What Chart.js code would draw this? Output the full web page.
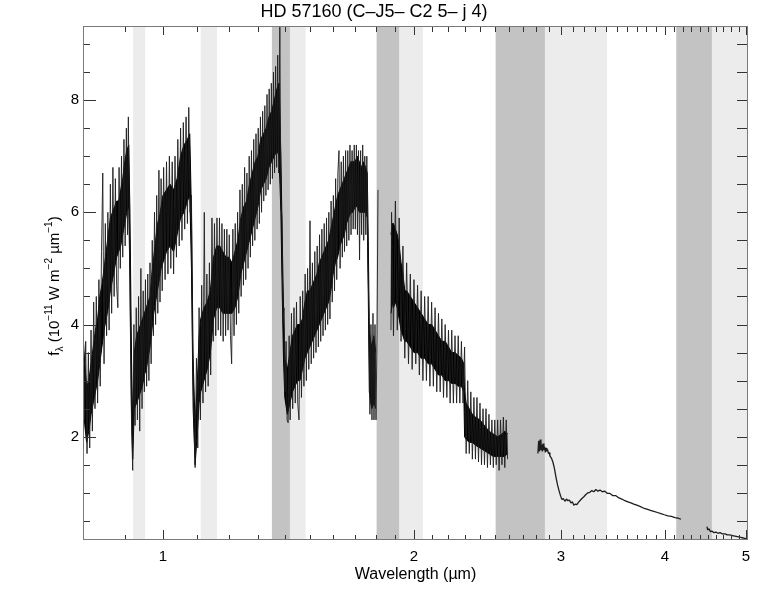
<!DOCTYPE html>
<html>
<head>
<meta charset="utf-8">
<title>HD 57160</title>
<script src="https://cdn.jsdelivr.net/npm/chart.js@4.4.1/dist/chart.umd.min.js"></script>
<style>
  html, body { margin: 0; padding: 0; background: #fff; }
  #wrap { width: 774px; height: 594px; }
</style>
</head>
<body>
<div id="wrap"><canvas id="spec" width="774" height="594"></canvas></div>
<script>
// spectrum in four pieces (gaps between them)
const wave1 = [0.802,0.805,0.808,0.811,0.814,0.817,0.820,0.823,0.826,0.829,0.832,0.835,0.838,0.841,0.844,0.847,0.850,0.853,0.856,0.859,
  0.862,0.865,0.868,0.871,0.874,0.877,0.880,0.883,0.886,0.889,0.892,0.895,0.898,0.901,0.904,0.907,0.909,0.912,0.914,0.917,
  0.920,0.923,0.926,0.929,0.932,0.935,0.938,0.941,0.944,0.947,0.950,0.953,0.956,0.959,0.962,0.965,0.968,0.971,0.974,0.977,
  0.980,0.983,0.986,0.989,0.992,0.995,0.998,1.002,1.006,1.010,1.014,1.018,1.022,1.026,1.030,1.034,1.038,1.042,1.046,1.050,
  1.054,1.058,1.062,1.066,1.070,1.074,1.078,1.082,1.085,1.089,1.093,1.097,1.101,1.105,1.109,1.113,1.117,1.121,1.125,1.129,
  1.133,1.137,1.141,1.145,1.149,1.153,1.157,1.161,1.165,1.169,1.173,1.177,1.181,1.185,1.189,1.193,1.197,1.201,1.205,1.209,
  1.213,1.217,1.221,1.225,1.229,1.233,1.237,1.241,1.245,1.249,1.253,1.257,1.261,1.265,1.269,1.273,1.277,1.281,1.285,1.289,
  1.293,1.297,1.301,1.305,1.309,1.313,1.317,1.321,1.325,1.329,1.333,1.337,1.341,1.345,1.349,1.353,1.357,1.361,1.365,1.369,
  1.373,1.377,1.381,1.385,1.389,1.393,1.397,1.401,1.405,1.409,1.413,1.417,1.421,1.426,1.431,1.436,1.441,1.446,1.451,1.456,
  1.461,1.466,1.471,1.476,1.481,1.486,1.491,1.496,1.501,1.506,1.511,1.516,1.521,1.526,1.531,1.536,1.541,1.546,1.551,1.556,
  1.561,1.566,1.571,1.576,1.581,1.586,1.591,1.596,1.601,1.606,1.611,1.616,1.621,1.626,1.631,1.636,1.641,1.646,1.651,1.656,
  1.661,1.666,1.671,1.676,1.681,1.686,1.691,1.696,1.701,1.706,1.711,1.716,1.721,1.726,1.731,1.736,1.741,1.746,1.751,1.756,
  1.761,1.766,1.771,1.776,1.781,1.786,1.791,1.796,1.801,1.806,1.811];
const flux1 = [4.0,2.3,3.7,1.7,3.5,1.8,3.9,2.1,4.4,2.5,4.5,2.6,4.8,2.9,5.3,6.7,3.3,5.8,3.8,6.0,
  3.9,6.5,4.2,6.8,4.5,6.6,4.7,4.3,6.8,5.0,7.0,5.2,7.3,5.4,7.5,5.6,7.7,5.5,4.0,2.2,
  1.4,4.0,2.2,4.3,2.3,4.5,2.1,5.0,2.5,4.6,2.8,4.8,2.9,4.9,3.0,5.1,3.3,5.5,3.8,6.0,
  4.0,6.3,4.2,6.75,4.4,6.6,4.6,6.8,4.8,6.9,4.9,7.0,5.0,6.9,4.9,7.0,5.2,7.3,5.4,7.5,
  5.5,7.6,5.7,7.7,5.8,7.87,6.0,6.3,3.8,2.4,1.45,3.4,1.8,4.3,2.3,4.7,2.6,6.0,2.8,4.9,
  2.9,5.1,3.1,5.9,3.7,5.8,3.8,5.9,3.9,5.9,3.8,5.8,3.7,5.7,3.8,5.7,3.9,5.6,3.8,3.3,
  5.7,3.8,5.8,4.0,6.0,4.2,6.4,4.5,6.5,4.7,6.8,4.8,6.7,5.0,7.0,5.2,7.1,5.4,7.3,5.5,
  7.4,5.7,7.5,5.8,7.7,6.0,7.8,6.2,7.9,6.3,8.1,6.4,8.2,6.5,8.3,6.6,8.5,6.7,8.6,6.8,
  8.8,6.7,9.3,6.2,5.9,4.0,4.3,2.8,3.7,2.3,2.25,3.8,2.3,4.2,2.5,4.3,2.6,4.4,2.6,2.3,
  4.5,2.7,4.6,2.9,4.9,3.0,5.0,3.2,5.85,3.3,5.1,3.4,5.3,3.5,5.4,3.6,5.6,3.7,5.7,3.8,
  5.8,3.9,5.9,4.0,6.0,4.1,6.2,4.4,6.3,4.6,6.6,4.8,6.7,7.1,5.0,6.9,5.2,7.0,5.3,7.1,
  5.4,7.1,5.5,7.2,5.6,7.1,5.7,7.2,5.7,7.2,5.6,7.1,5.15,7.1,5.6,7.2,5.5,7.0,5.6,7.0,
  5.2,4.2,2.4,4.0,2.3,4.2,2.3,4.0,2.3,3.8,6.4];

const wave2 = [1.877,1.88,1.89,1.90,1.91,1.92,1.93,1.94,1.95,1.96,1.97,1.98,1.99,2.00,2.01,2.02,2.03,2.04,2.05,2.06,
  2.07,2.08,2.09,2.10,2.11,2.12,2.13,2.14,2.15,2.16,2.17,2.18,2.19,2.20,2.21,2.22,2.23,2.24,2.25,2.26,
  2.27,2.28,2.29,2.30,2.31,2.32,2.33,2.34,2.35,2.36,2.37,2.38,2.39,2.40,2.41,2.42,2.43,2.44,2.45,2.46,
  2.47,2.48,2.49,2.50,2.51,2.52,2.53,2.54,2.55,2.56,2.57,2.58,2.59];
const flux2 = [3.9,6.0,3.8,6.2,3.9,5.9,3.7,5.4,3.4,5.1,3.3,4.9,3.2,4.8,3.3,4.7,3.1,4.6,3.0,4.5,
  3.0,4.5,2.9,4.4,2.9,4.3,2.8,4.2,2.8,4.1,2.7,4.0,2.7,3.9,2.6,3.9,2.6,3.8,2.6,3.8,
  2.6,3.7,2.6,3.6,1.7,3.0,1.7,2.8,1.6,2.7,1.6,2.7,1.55,2.6,1.5,2.5,1.5,2.5,1.45,2.4,
  1.5,2.3,1.45,2.3,1.5,2.3,1.4,2.3,1.5,2.35,1.45,2.3,1.6];

const wave3 = [2.816,2.822,2.828,2.834,2.840,2.846,2.851,2.857,2.863,2.869,2.875,2.881,2.887,2.893,2.899,2.905,2.911,2.923,2.935,2.947,
  2.960,2.972,2.984,2.996,3.009,3.021,3.034,3.047,3.059,3.072,3.085,3.097,3.110,3.123,3.136,3.149,3.162,3.180,3.197,3.215,
  3.233,3.250,3.268,3.286,3.305,3.323,3.342,3.365,3.388,3.412,3.436,3.464,3.493,3.522,3.551,3.580,3.610,3.640,3.670,3.701,
  3.732,3.768,3.805,3.842,3.879,3.917,3.955,3.993,4.032,4.071,4.111,4.145,4.180];
const flux3 = [1.70,1.93,1.74,1.95,1.76,1.86,1.74,1.88,1.76,1.82,1.72,1.80,1.74,1.77,1.70,1.72,1.66,1.62,1.55,1.44,
  1.28,1.15,1.05,0.96,0.88,0.90,0.85,0.89,0.86,0.87,0.82,0.84,0.78,0.80,0.79,0.83,0.86,0.90,0.93,0.97,
  1.00,1.01,1.04,1.02,1.06,1.03,1.05,1.02,1.03,0.99,0.99,0.95,0.95,0.91,0.89,0.86,0.84,0.82,0.80,0.78,
  0.76,0.73,0.71,0.69,0.67,0.65,0.63,0.61,0.59,0.58,0.56,0.55,0.53];

const wave4 = [4.491,4.500,4.516,4.535,4.553,4.578,4.604,4.630,4.655,4.688,4.720,4.752,4.785,4.818,4.852,4.885,4.918,4.952,4.986,5.028];
const flux4 = [0.40,0.34,0.36,0.31,0.32,0.29,0.30,0.28,0.29,0.27,0.27,0.25,0.25,0.24,0.23,0.22,0.21,0.20,0.19,0.17];

// dense black core of the noisy parts: upper / lower edge
const core1Wave = [0.803,0.806,0.81,0.815,0.82,0.825,0.83,0.835,0.84,0.845,0.85,0.855,0.86,0.865,0.87,0.875,0.88,0.885,0.89,0.895,
  0.90,0.905,0.91,0.913,0.917,0.92,0.924,0.93,0.935,0.94,0.945,0.95,0.955,0.96,0.965,0.97,0.975,0.98,0.985,0.99,
  0.995,1.00,1.01,1.02,1.03,1.04,1.05,1.06,1.07,1.077,1.082,1.087,1.093,1.10,1.105,1.11,1.12,1.13,1.14,1.15,
  1.16,1.17,1.18,1.19,1.20,1.21,1.22,1.23,1.24,1.25,1.26,1.27,1.28,1.29,1.30,1.31,1.32,1.33,1.34,1.35,
  1.36,1.37,1.378,1.385,1.39,1.395,1.40,1.41,1.42,1.43,1.44,1.45,1.46,1.47,1.48,1.49,1.50,1.51,1.52,1.53,
  1.54,1.55,1.56,1.57,1.58,1.59,1.60,1.61,1.62,1.63,1.64,1.65,1.66,1.67,1.68,1.69,1.70,1.71,1.72,1.73,
  1.74,1.75,1.758,1.763,1.768,1.775,1.78,1.79,1.80];
const core1Top = [3.7,3.3,2.9,3.0,3.3,3.6,3.9,4.1,4.5,4.7,5.0,5.3,5.6,5.9,6.0,6.1,6.2,6.2,6.4,6.6,
  6.9,7.1,7.2,6.0,3.4,2.2,3.5,3.8,3.9,4.0,4.1,4.2,4.3,4.4,4.5,4.9,5.2,5.5,5.8,5.9,
  6.1,6.3,6.4,6.5,6.4,6.6,7.0,7.2,7.3,7.4,6.0,3.4,2.2,3.0,3.8,4.1,4.3,4.4,4.6,5.2,
  5.4,5.4,5.3,5.2,5.2,5.1,5.3,5.5,5.9,6.1,6.2,6.5,6.7,6.9,7.0,7.3,7.4,7.5,7.7,7.8,
  8.0,8.2,8.3,7.0,5.6,4.3,3.4,3.2,3.5,3.8,3.9,4.0,4.0,4.1,4.4,4.6,4.6,4.7,4.8,4.9,
  5.1,5.2,5.3,5.4,5.5,5.7,5.9,6.1,6.3,6.4,6.5,6.6,6.7,6.8,6.9,6.9,6.9,7.0,6.9,6.8,
  6.9,6.8,6.7,5.5,3.9,3.7,3.6,3.8,3.5];
const core1Bottom = [2.6,2.2,1.9,2.1,2.4,2.6,2.8,3.0,3.3,3.6,3.9,4.1,4.3,4.6,4.8,5.0,5.2,5.3,5.4,5.6,
  5.8,6.0,6.1,4.8,2.4,1.6,2.5,2.6,2.7,2.8,2.9,3.1,3.2,3.4,3.6,3.9,4.2,4.4,4.6,4.8,
  5.0,5.1,5.3,5.4,5.3,5.6,5.9,6.0,6.2,6.3,5.0,2.5,1.5,2.1,2.6,2.8,3.0,3.2,3.5,4.1,
  4.3,4.3,4.2,4.2,4.2,4.2,4.3,4.5,4.9,5.1,5.3,5.5,5.7,5.9,6.1,6.4,6.5,6.6,6.8,6.9,
  7.0,7.1,7.0,6.0,4.6,3.4,2.7,2.4,2.6,2.8,2.9,3.0,3.0,3.2,3.4,3.5,3.6,3.7,3.8,3.9,
  4.0,4.1,4.2,4.3,4.4,4.6,4.9,5.1,5.2,5.4,5.5,5.6,5.8,5.9,6.0,6.0,6.1,6.1,6.0,6.0,
  6.0,6.0,5.9,4.5,2.8,2.6,2.5,2.6,2.5];

const core2Wave = [1.877,1.885,1.89,1.90,1.91,1.92,1.93,1.94,1.95,1.96,1.98,2.00,2.02,2.04,2.06,2.08,2.10,2.12,2.14,2.16,
  2.18,2.20,2.22,2.24,2.26,2.28,2.295,2.30,2.31,2.33,2.35,2.37,2.40,2.43,2.46,2.49,2.52,2.55,2.57,2.59];
const core2Top = [5.6,5.8,5.8,5.7,5.6,5.4,5.1,4.9,4.6,4.6,4.5,4.4,4.3,4.2,4.1,4.0,4.0,3.9,3.8,3.7,
  3.7,3.6,3.5,3.5,3.45,3.4,3.3,2.8,2.6,2.5,2.4,2.35,2.3,2.2,2.1,2.05,2.0,2.05,2.1,2.05];
const core2Bottom = [4.2,4.4,4.3,4.4,4.3,4.1,3.9,3.8,3.7,3.7,3.6,3.5,3.5,3.4,3.4,3.3,3.3,3.2,3.1,3.1,
  3.0,3.0,2.95,2.95,2.9,2.9,2.8,2.0,1.95,1.9,1.9,1.85,1.8,1.75,1.7,1.65,1.65,1.65,1.65,1.7];

// shaded wavelength windows
const darkBands = [[1.351, 1.420], [1.804, 1.920], [2.506, 2.871], [4.126, 4.553]];
const lightBands = [[0.921, 0.952], [1.110, 1.161], [1.420, 1.483], [1.920, 2.050], [2.871, 3.408], [4.553, 5.10]];

// axis ticks
const xMajorTicks = [1, 2, 3, 4, 5];
const xMinorTicks = [0.9, 1.1, 1.2, 1.3, 1.4, 1.5, 1.6, 1.7, 1.8, 1.9,
  2.1, 2.2, 2.3, 2.4, 2.5, 2.6, 2.7, 2.8, 2.9, 3.1, 3.2, 3.3, 3.4, 3.5, 3.6, 3.7, 3.8, 3.9,
  4.1, 4.2, 4.3, 4.4, 4.5, 4.6, 4.7, 4.8, 4.9];
const yMajorTicks = [2, 4, 6, 8];
const yMinorTicks = [0.5, 1, 1.5, 2.5, 3, 3.5, 4.5, 5, 5.5, 6.5, 7, 7.5, 8.5, 9];

const FONT = '"Liberation Sans", Arial, Helvetica, sans-serif';

function pairs(w, f) {
  return w.map((v, i) => ({ x: v, y: f[i] }));
}

function lineSet(w, f, width) {
  return {
    data: pairs(w, f),
    borderColor: '#1e1e1e',
    borderWidth: width,
    borderJoinStyle: 'bevel',
    pointRadius: 0,
    tension: 0,
    fill: false
  };
}

// upper edge filled down to the next dataset (the lower edge)
function coreSets(w, top, bottom) {
  return [
    { data: pairs(w, top), borderColor: '#000', borderWidth: 1, backgroundColor: '#000',
      pointRadius: 0, tension: 0, fill: '+1' },
    { data: pairs(w, bottom), borderColor: '#000', borderWidth: 1,
      pointRadius: 0, tension: 0, fill: false }
  ];
}

// grey windows behind the spectrum, inward ticks and the box
const frameAndBands = {
  id: 'frameAndBands',
  beforeDatasetsDraw(chart) {
    const { ctx, chartArea: a, scales: { x } } = chart;
    ctx.save();
    const paint = (list, col) => {
      ctx.fillStyle = col;
      list.forEach(b => {
        const x0 = Math.max(a.left, x.getPixelForValue(b[0]));
        const x1 = Math.min(a.right, x.getPixelForValue(b[1]));
        if (x1 > x0) ctx.fillRect(x0, a.top, x1 - x0, a.bottom - a.top);
      });
    };
    paint(lightBands, '#ececec');
    paint(darkBands, '#c3c3c3');
    ctx.restore();
  },
  afterDatasetsDraw(chart) {
    const { ctx, chartArea: a, scales: { x, y } } = chart;
    ctx.save();
    ctx.lineWidth = 1;
    ctx.strokeStyle = '#333';
    ctx.beginPath();
    const xt = xMajorTicks.map(v => [v, true]).concat(xMinorTicks.map(v => [v, false]));
    xt.forEach(([v, major]) => {
      const px = Math.round(x.getPixelForValue(v)) + 0.5;
      ctx.moveTo(px, a.bottom); ctx.lineTo(px, a.bottom - (major ? 10 : 5));
      ctx.moveTo(px, a.top); ctx.lineTo(px, a.top + (major ? 9 : 6));
    });
    const yt = yMajorTicks.map(v => [v, true]).concat(yMinorTicks.map(v => [v, false]));
    yt.forEach(([v, major]) => {
      const py = Math.round(y.getPixelForValue(v)) + 0.5;
      ctx.moveTo(a.left, py); ctx.lineTo(a.left + (major ? 13 : 7), py);
      ctx.moveTo(a.right, py); ctx.lineTo(a.right - 11, py);
    });
    ctx.stroke();
    ctx.strokeStyle = '#7a7a7a';
    ctx.strokeRect(Math.round(a.left) + 0.5, Math.round(a.top) + 0.5,
      Math.round(a.right - a.left) - 1, Math.round(a.bottom - a.top) - 1);
    ctx.restore();
  },
  afterDraw(chart) {
    // y title with subscript / superscripts
    const ctx = chart.ctx;
    const parts = [
      ['f', 0, 15], ['\u03bb', 4, 10], [' (10', 0, 15], ['\u221211', -7, 10],
      [' W m', 0, 15], ['\u22122', -7, 10], [' \u00b5m', 0, 15], ['\u22121', -7, 10], [')', 0, 15]
    ];
    ctx.save();
    ctx.fillStyle = '#000';
    ctx.textBaseline = 'alphabetic';
    let total = 0;
    parts.forEach(p => { ctx.font = p[2] + 'px ' + FONT; total += ctx.measureText(p[0]).width; });
    ctx.translate(59, (chart.chartArea.top + chart.chartArea.bottom) / 2 + 3);
    ctx.rotate(-Math.PI / 2);
    let cx = -total / 2;
    parts.forEach(p => {
      ctx.font = p[2] + 'px ' + FONT;
      ctx.fillText(p[0], cx, p[1]);
      cx += ctx.measureText(p[0]).width;
    });
    ctx.restore();
  }
};

new Chart(document.getElementById('spec'), {
  type: 'line',
  data: {
    datasets: [
      lineSet(wave1, flux1, 0.9), lineSet(wave2, flux2, 0.9), lineSet(wave3, flux3, 1.3), lineSet(wave4, flux4, 1.3),
      ...coreSets(core1Wave, core1Top, core1Bottom),
      ...coreSets(core2Wave, core2Top, core2Bottom)
    ]
  },
  options: {
    responsive: false,
    animation: false,
    devicePixelRatio: 1,
    layout: { padding: { left: 0, right: 26, top: 0, bottom: 0 } },
    plugins: {
      legend: { display: false },
      tooltip: { enabled: false },
      title: {
        display: true,
        text: 'HD 57160 (C\u2013J5\u2013 C2 5\u2013 j 4)',
        color: '#000',
        font: { family: FONT, size: 18, weight: 'normal' },
        padding: { top: 1, bottom: 3.4 }
      }
    },
    scales: {
      x: {
        type: 'logarithmic',
        min: 0.802,
        max: 5.03,
        grid: { display: false, drawTicks: false },
        border: { display: false },
        afterBuildTicks: s => { s.ticks = xMajorTicks.concat(xMinorTicks).sort((p, q) => p - q).map(v => ({ value: v })); },
        afterFit: s => { s.height = 54; },
        ticks: {
          autoSkip: false,
          maxRotation: 0,
          padding: 8,
          color: '#000',
          font: { family: FONT, size: 15 },
          callback: v => (xMajorTicks.includes(v) ? String(v) : '')
        },
        title: {
          display: true,
          text: 'Wavelength (\u00b5m)',
          color: '#000',
          font: { family: FONT, size: 16 },
          padding: { top: 0, bottom: 10 }
        }
      },
      y: {
        min: 0.16,
        max: 9.32,
        grid: { display: false, drawTicks: false },
        border: { display: false },
        afterBuildTicks: s => { s.ticks = yMajorTicks.concat(yMinorTicks).sort((p, q) => p - q).map(v => ({ value: v })); },
        afterFit: s => { s.width = 83; },
        ticks: {
          autoSkip: false,
          padding: 4,
          color: '#000',
          font: { family: FONT, size: 15 },
          callback: v => (yMajorTicks.includes(v) ? String(v) : '')
        }
      }
    }
  },
  plugins: [frameAndBands]
});
</script>
</body>
</html>
